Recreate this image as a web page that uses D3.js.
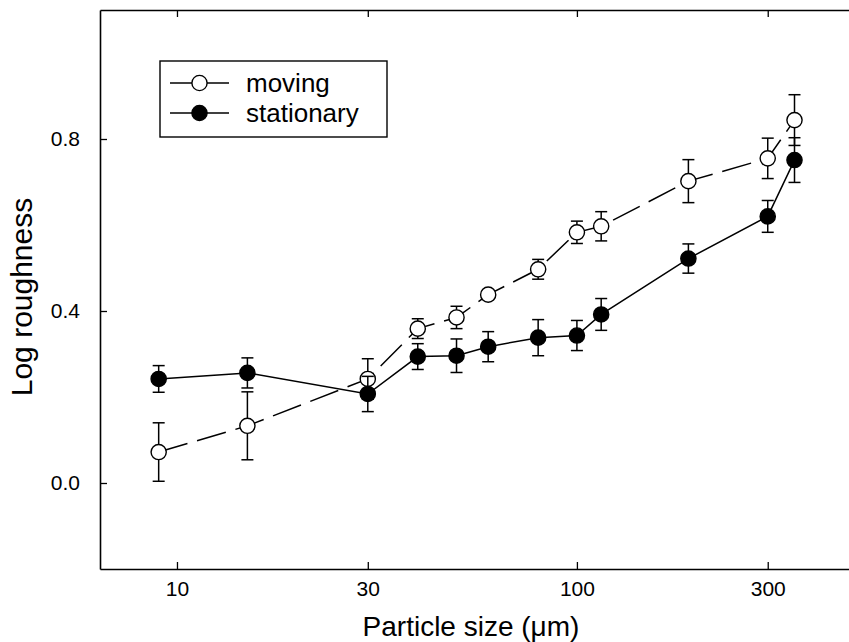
<!DOCTYPE html>
<html>
<head>
<meta charset="utf-8">
<script src="https://cdn.jsdelivr.net/npm/d3@7"></script>
<style>
  html, body { margin: 0; padding: 0; background: #fff; }
  svg { display: block; font-family: "Liberation Sans", Arial, sans-serif; }
</style>
</head>
<body>
<svg width="849" height="642"></svg>
<script>
// Particle sizes (um) and log roughness values
const sizes = [9, 15, 30, 40, 50, 60, 80, 100, 115, 190, 300, 350];
const movingMean = [0.072, 0.133, 0.242, 0.359, 0.385, 0.438, 0.497, 0.583, 0.597, 0.702, 0.755, 0.844];
const movingErr = [0.068, 0.079, 0.047, 0.023, 0.026, 0.010, 0.023, 0.026, 0.034, 0.050, 0.047, 0.059];
const stationaryMean = [0.242, 0.256, 0.207, 0.294, 0.296, 0.317, 0.338, 0.343, 0.392, 0.522, 0.620, 0.751];
const stationaryErr = [0.031, 0.035, 0.041, 0.030, 0.039, 0.035, 0.042, 0.035, 0.037, 0.034, 0.037, 0.052];

const xTicks = [10, 30, 100, 300];
const yTicks = [0.0, 0.4, 0.8];
const seriesNames = ["moving", "stationary"];

const width = 849;
const height = 642;

const svg = d3.select("svg")
    .attr("width", width)
    .attr("height", height);

const x = d3.scaleLog().domain([6.42, 479]).range([100, 849]);
const y = d3.scaleLinear().domain([-0.2, 1.1]).range([569, 10]);

// Build the two series
const series = [
    { name: seriesNames[0], filled: false, dash: "30,10",
      points: sizes.map((s, i) => ({ s: s, v: movingMean[i], e: movingErr[i] })) },
    { name: seriesNames[1], filled: true, dash: null,
      points: sizes.map((s, i) => ({ s: s, v: stationaryMean[i], e: stationaryErr[i] })) }
];

// Axes: ticks point into the plot
const xAxis = svg.append("g")
    .attr("transform", `translate(0,${y.range()[0]})`)
    .call(d3.axisBottom(x).tickValues(xTicks).tickSize(-7).tickSizeOuter(0)
        .tickPadding(12).tickFormat(d3.format("d")));

const topAxis = svg.append("g")
    .attr("transform", `translate(0,${y.range()[1]})`)
    .call(d3.axisTop(x).tickValues(xTicks).tickSize(-7).tickSizeOuter(0)
        .tickFormat(""));

const yAxis = svg.append("g")
    .attr("transform", `translate(${x.range()[0]},0)`)
    .call(d3.axisLeft(y).tickValues(yTicks).tickSize(-7).tickSizeOuter(0)
        .tickPadding(20).tickFormat(d3.format(".1f")));

[xAxis, topAxis, yAxis].forEach(g => {
    g.select(".domain").attr("stroke", "#000").attr("stroke-width", 1.6);
    g.selectAll(".tick line").attr("stroke", "#000").attr("stroke-width", 1.3);
    g.selectAll(".tick text")
        .attr("fill", "#000")
        .style("font-size", "21px")
        .style("font-family", "'Liberation Sans', Arial, sans-serif");
});

// Axis titles
svg.append("text")
    .attr("x", 471)
    .attr("y", 636)
    .attr("text-anchor", "middle")
    .style("font-size", "28px")
    .text("Particle size (\u03bcm)");

svg.append("text")
    .attr("transform", "translate(32,297) rotate(-90)")
    .attr("text-anchor", "middle")
    .style("font-size", "30px")
    .text("Log roughness");

const line = d3.line()
    .x(d => x(d.s))
    .y(d => y(d.v));

const capHalf = 6;
const radius = 7.6;

series.forEach(sr => {
    const g = svg.append("g");

    // error bars
    const eb = g.append("g")
        .attr("stroke", "#000")
        .attr("stroke-width", 1.5)
        .selectAll("g")
        .data(sr.points)
        .enter()
        .append("g");

    eb.append("line")
        .attr("x1", d => x(d.s)).attr("x2", d => x(d.s))
        .attr("y1", d => y(d.v + d.e)).attr("y2", d => y(d.v - d.e));
    eb.append("line")
        .attr("x1", d => x(d.s) - capHalf).attr("x2", d => x(d.s) + capHalf)
        .attr("y1", d => y(d.v + d.e)).attr("y2", d => y(d.v + d.e));
    eb.append("line")
        .attr("x1", d => x(d.s) - capHalf).attr("x2", d => x(d.s) + capHalf)
        .attr("y1", d => y(d.v - d.e)).attr("y2", d => y(d.v - d.e));

    // connecting line
    g.append("path")
        .datum(sr.points)
        .attr("d", line)
        .attr("fill", "none")
        .attr("stroke", "#000")
        .attr("stroke-width", 1.5)
        .attr("stroke-dasharray", sr.dash);

    // markers
    g.append("g")
        .selectAll("circle")
        .data(sr.points)
        .enter()
        .append("circle")
        .attr("cx", d => x(d.s))
        .attr("cy", d => y(d.v))
        .attr("r", radius)
        .attr("fill", sr.filled ? "#000" : "#fff")
        .attr("stroke", "#000")
        .attr("stroke-width", 1.4);
});

// Legend
const legend = svg.append("g");

legend.append("rect")
    .attr("x", 160)
    .attr("y", 61)
    .attr("width", 227)
    .attr("height", 76)
    .attr("fill", "#fff")
    .attr("stroke", "#000")
    .attr("stroke-width", 1.4);

const rows = legend.selectAll("g.row")
    .data(series)
    .enter()
    .append("g")
    .attr("class", "row")
    .attr("transform", (d, i) => `translate(0,${83 + i * 30})`);

rows.append("line")
    .attr("x1", 170).attr("x2", 229)
    .attr("y1", 0).attr("y2", 0)
    .attr("stroke", "#000")
    .attr("stroke-width", 1.4);

rows.append("circle")
    .attr("cx", 199.5)
    .attr("cy", 0)
    .attr("r", radius)
    .attr("fill", d => d.filled ? "#000" : "#fff")
    .attr("stroke", "#000")
    .attr("stroke-width", 1.4);

rows.append("text")
    .attr("x", 246)
    .attr("y", 0)
    .attr("dy", "0.35em")
    .style("font-size", "26px")
    .text(d => d.name);
</script>
</body>
</html>
